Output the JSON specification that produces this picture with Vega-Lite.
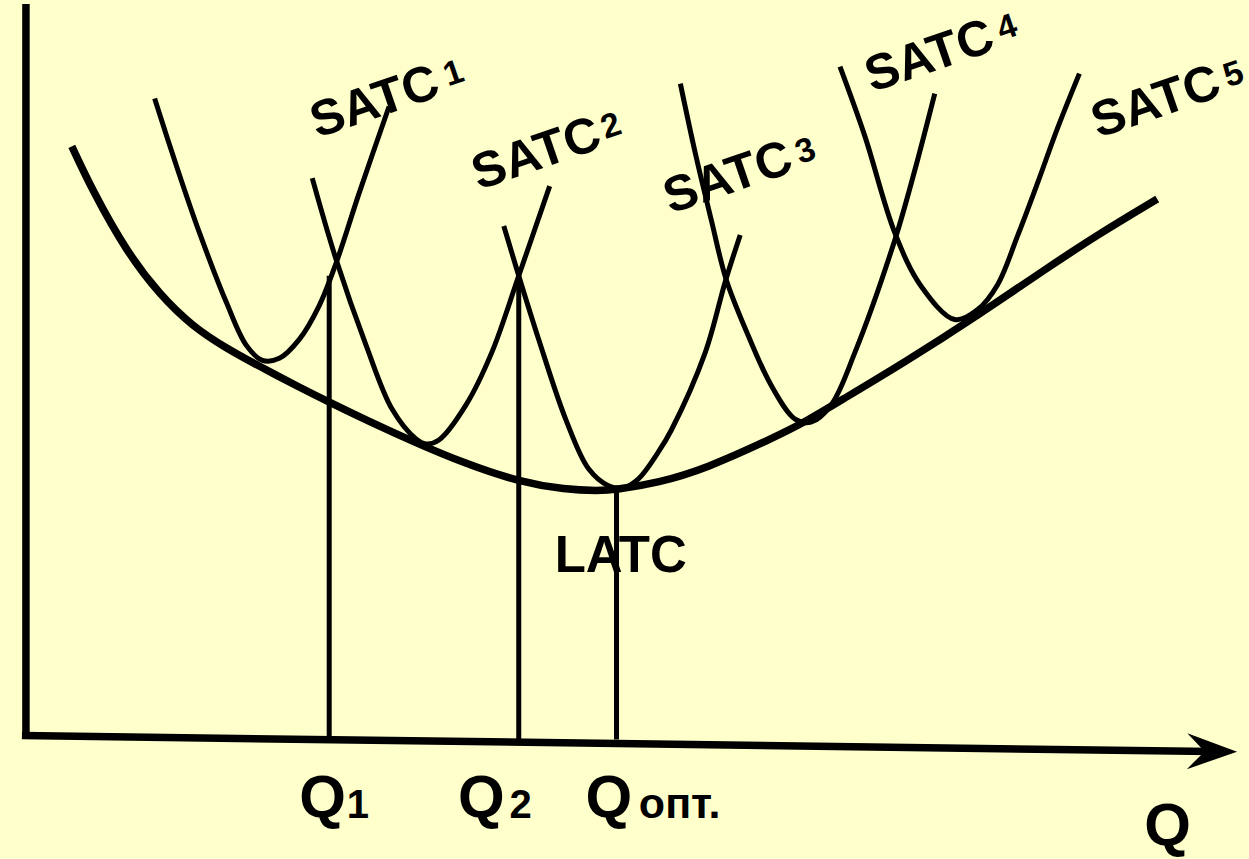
{
  "$schema": "https://vega.github.io/schema/vega-lite/v6.json",
  "width": 1249,
  "height": 859,
  "autosize": {"type": "fit", "contains": "padding"},
  "padding": 0,
  "background": "#FFFFCC",
  "config": {"view": {"stroke": null}},
  "datasets": {
    "latc": [
      {"x": 7.2, "y": 71.6}, {"x": 9.3, "y": 67.1}, {"x": 12.7, "y": 61.0}, {"x": 16.0, "y": 56.7},
      {"x": 19.3, "y": 53.5}, {"x": 22.7, "y": 51.3}, {"x": 26.0, "y": 49.5}, {"x": 30.0, "y": 47.4},
      {"x": 33.0, "y": 45.9}, {"x": 36.7, "y": 44.1}, {"x": 41.7, "y": 41.8}, {"x": 46.7, "y": 39.7},
      {"x": 52.0, "y": 37.9}, {"x": 56.7, "y": 37.1}, {"x": 60.0, "y": 37.0}, {"x": 61.7, "y": 37.1},
      {"x": 66.0, "y": 37.8}, {"x": 70.7, "y": 39.2}, {"x": 77.3, "y": 42.2}, {"x": 80.7, "y": 43.9},
      {"x": 84.0, "y": 45.9}, {"x": 90.7, "y": 49.9}, {"x": 98.0, "y": 54.6}, {"x": 105.0, "y": 59.4},
      {"x": 110.0, "y": 62.7}, {"x": 116.0, "y": 66.3}
    ],
    "satc": [
      {"curve": "SATC1", "x": 15.5, "y": 76.4}, {"curve": "SATC1", "x": 17.7, "y": 69.6},
      {"curve": "SATC1", "x": 20.0, "y": 62.9}, {"curve": "SATC1", "x": 22.7, "y": 55.9},
      {"curve": "SATC1", "x": 24.7, "y": 51.6}, {"curve": "SATC1", "x": 26.3, "y": 50.1},
      {"curve": "SATC1", "x": 28.0, "y": 50.3}, {"curve": "SATC1", "x": 30.0, "y": 52.2},
      {"curve": "SATC1", "x": 32.0, "y": 55.6}, {"curve": "SATC1", "x": 33.7, "y": 59.9},
      {"curve": "SATC1", "x": 36.0, "y": 66.9}, {"curve": "SATC1", "x": 39.0, "y": 75.6},

      {"curve": "SATC2", "x": 31.3, "y": 68.4}, {"curve": "SATC2", "x": 33.7, "y": 60.2},
      {"curve": "SATC2", "x": 36.7, "y": 51.6}, {"curve": "SATC2", "x": 39.3, "y": 45.2},
      {"curve": "SATC2", "x": 41.7, "y": 42.2}, {"curve": "SATC2", "x": 42.7, "y": 41.7},
      {"curve": "SATC2", "x": 44.0, "y": 42.1}, {"curve": "SATC2", "x": 46.7, "y": 45.6},
      {"curve": "SATC2", "x": 49.3, "y": 50.9}, {"curve": "SATC2", "x": 52.0, "y": 58.6},
      {"curve": "SATC2", "x": 55.1, "y": 67.6},

      {"curve": "SATC3", "x": 50.5, "y": 63.6}, {"curve": "SATC3", "x": 52.0, "y": 58.6},
      {"curve": "SATC3", "x": 54.0, "y": 52.2}, {"curve": "SATC3", "x": 56.7, "y": 44.2},
      {"curve": "SATC3", "x": 59.0, "y": 39.2}, {"curve": "SATC3", "x": 61.0, "y": 37.5},
      {"curve": "SATC3", "x": 62.5, "y": 37.3}, {"curve": "SATC3", "x": 64.0, "y": 38.2},
      {"curve": "SATC3", "x": 66.0, "y": 40.9}, {"curve": "SATC3", "x": 67.3, "y": 43.1},
      {"curve": "SATC3", "x": 70.7, "y": 50.9}, {"curve": "SATC3", "x": 72.7, "y": 58.0},
      {"curve": "SATC3", "x": 74.2, "y": 62.7},

      {"curve": "SATC4", "x": 68.2, "y": 77.9}, {"curve": "SATC4", "x": 69.7, "y": 70.9},
      {"curve": "SATC4", "x": 71.3, "y": 64.2}, {"curve": "SATC4", "x": 72.8, "y": 58.2},
      {"curve": "SATC4", "x": 75.0, "y": 52.6}, {"curve": "SATC4", "x": 77.3, "y": 47.6},
      {"curve": "SATC4", "x": 79.7, "y": 44.2}, {"curve": "SATC4", "x": 81.3, "y": 43.9},
      {"curve": "SATC4", "x": 83.3, "y": 45.6}, {"curve": "SATC4", "x": 85.7, "y": 50.9},
      {"curve": "SATC4", "x": 89.7, "y": 62.2}, {"curve": "SATC4", "x": 91.7, "y": 69.2},
      {"curve": "SATC4", "x": 93.7, "y": 76.9},

      {"curve": "SATC5", "x": 84.2, "y": 79.6}, {"curve": "SATC5", "x": 86.7, "y": 72.6},
      {"curve": "SATC5", "x": 89.7, "y": 62.9}, {"curve": "SATC5", "x": 92.3, "y": 57.6},
      {"curve": "SATC5", "x": 95.7, "y": 54.2}, {"curve": "SATC5", "x": 98.0, "y": 55.2},
      {"curve": "SATC5", "x": 100.0, "y": 57.7}, {"curve": "SATC5", "x": 102.0, "y": 62.6},
      {"curve": "SATC5", "x": 104.0, "y": 67.9}, {"curve": "SATC5", "x": 106.0, "y": 73.4},
      {"curve": "SATC5", "x": 108.2, "y": 78.9}
    ],
    "drops": [
      {"name": "Q1", "x": 33.0, "y": 58.6, "x2": 33.0, "y2": 12.0},
      {"name": "Q2", "x": 52.0, "y": 58.6, "x2": 52.0, "y2": 12.0},
      {"name": "Qopt", "x": 61.8, "y": 36.9, "x2": 61.8, "y2": 12.0}
    ],
    "axes": [
      {"name": "cost", "x": 2.6, "y": 85.9, "x2": 2.6, "y2": 12.1},
      {"name": "Q", "x": 2.2, "y": 12.4, "x2": 121.5, "y2": 10.8}
    ],
    "arrow": [{"x": 121.5, "y": 10.8}],
    "labels": [
      {"kind": "satc", "text": "SATC", "x": 31.8, "y": 72.4},
      {"kind": "satc", "text": "SATC", "x": 48.0, "y": 67.2},
      {"kind": "satc", "text": "SATC", "x": 67.2, "y": 64.8},
      {"kind": "satc", "text": "SATC", "x": 87.4, "y": 77.0},
      {"kind": "satc", "text": "SATC", "x": 110.1, "y": 72.4},
      {"kind": "satcsub", "text": "1", "x": 44.9, "y": 77.6},
      {"kind": "satcsub", "text": "2", "x": 60.7, "y": 72.3},
      {"kind": "satcsub", "text": "3", "x": 80.2, "y": 69.8},
      {"kind": "satcsub", "text": "4", "x": 100.4, "y": 82.2},
      {"kind": "satcsub", "text": "5", "x": 123.1, "y": 77.5},
      {"kind": "latc", "text": "LATC", "x": 55.6, "y": 28.8},
      {"kind": "q", "text": "Q", "x": 30.0, "y": 4.2},
      {"kind": "q", "text": "Q", "x": 45.9, "y": 4.2},
      {"kind": "q", "text": "Q", "x": 58.7, "y": 4.2},
      {"kind": "q", "text": "Q", "x": 114.7, "y": 1.4},
      {"kind": "qsub", "text": "1", "x": 34.76, "y": 4.1},
      {"kind": "qsub", "text": "2", "x": 51.08, "y": 4.1},
      {"kind": "qsub2", "text": "опт.", "x": 64.04, "y": 4.1}
    ]
  },
  "layer": [
    {
      "data": {"name": "axes"},
      "mark": {"type": "rule", "color": "black", "strokeWidth": 7.5, "strokeCap": "butt"},
      "encoding": {
        "x": {"field": "x", "type": "quantitative", "scale": {"domain": [0, 124.9], "nice": false, "zero": false}, "axis": null},
        "y": {"field": "y", "type": "quantitative", "scale": {"domain": [0, 85.9], "nice": false, "zero": false}, "axis": null},
        "x2": {"field": "x2"},
        "y2": {"field": "y2"}
      }
    },
    {
      "data": {"name": "arrow"},
      "mark": {"type": "point", "shape": "M 1 0 L -1 -0.72 L -0.3 0 L -1 0.72 Z", "filled": true, "color": "black", "opacity": 1, "size": 2500, "angle": 0.8, "strokeWidth": 0},
      "encoding": {
        "x": {"field": "x", "type": "quantitative", "axis": null},
        "y": {"field": "y", "type": "quantitative", "axis": null}
      }
    },
    {
      "data": {"name": "drops"},
      "mark": {"type": "rule", "color": "black", "strokeWidth": 5},
      "encoding": {
        "x": {"field": "x", "type": "quantitative", "axis": null},
        "y": {"field": "y", "type": "quantitative", "axis": null},
        "x2": {"field": "x2"},
        "y2": {"field": "y2"}
      }
    },
    {
      "data": {"name": "satc"},
      "mark": {"type": "line", "interpolate": "catmull-rom", "color": "black", "strokeWidth": 5, "strokeCap": "butt"},
      "encoding": {
        "x": {"field": "x", "type": "quantitative", "axis": null},
        "y": {"field": "y", "type": "quantitative", "axis": null},
        "detail": {"field": "curve", "type": "nominal"}
      }
    },
    {
      "data": {"name": "latc"},
      "mark": {"type": "line", "interpolate": "basis", "color": "black", "strokeWidth": 7.5, "strokeCap": "butt"},
      "encoding": {
        "x": {"field": "x", "type": "quantitative", "axis": null},
        "y": {"field": "y", "type": "quantitative", "axis": null}
      }
    },
    {
      "data": {"name": "labels"},
      "transform": [{"filter": "datum.kind === 'satc'"}],
      "mark": {"type": "text", "font": "Liberation Sans", "fontWeight": "bold", "fontSize": 50, "align": "left", "baseline": "alphabetic", "angle": -19, "color": "black"},
      "encoding": {
        "x": {"field": "x", "type": "quantitative", "axis": null},
        "y": {"field": "y", "type": "quantitative", "axis": null},
        "text": {"field": "text"}
      }
    },
    {
      "data": {"name": "labels"},
      "transform": [{"filter": "datum.kind === 'satcsub'"}],
      "mark": {"type": "text", "font": "Liberation Sans", "fontWeight": "bold", "fontSize": 34, "align": "left", "baseline": "alphabetic", "angle": -19, "color": "black"},
      "encoding": {
        "x": {"field": "x", "type": "quantitative", "axis": null},
        "y": {"field": "y", "type": "quantitative", "axis": null},
        "text": {"field": "text"}
      }
    },
    {
      "data": {"name": "labels"},
      "transform": [{"filter": "datum.kind === 'latc'"}],
      "mark": {"type": "text", "font": "Liberation Sans", "fontWeight": "bold", "fontSize": 51, "align": "left", "baseline": "alphabetic", "color": "black"},
      "encoding": {
        "x": {"field": "x", "type": "quantitative", "axis": null},
        "y": {"field": "y", "type": "quantitative", "axis": null},
        "text": {"field": "text"}
      }
    },
    {
      "data": {"name": "labels"},
      "transform": [{"filter": "datum.kind === 'q'"}],
      "mark": {"type": "text", "font": "Liberation Sans", "fontWeight": "bold", "fontSize": 60, "align": "left", "baseline": "alphabetic", "color": "black"},
      "encoding": {
        "x": {"field": "x", "type": "quantitative", "axis": null},
        "y": {"field": "y", "type": "quantitative", "axis": null},
        "text": {"field": "text"}
      }
    },
    {
      "data": {"name": "labels"},
      "transform": [{"filter": "datum.kind === 'qsub'"}],
      "mark": {"type": "text", "font": "Liberation Sans", "fontWeight": "bold", "fontSize": 40, "align": "left", "baseline": "alphabetic", "color": "black"},
      "encoding": {
        "x": {"field": "x", "type": "quantitative", "axis": null},
        "y": {"field": "y", "type": "quantitative", "axis": null},
        "text": {"field": "text"}
      }
    },
    {
      "data": {"name": "labels"},
      "transform": [{"filter": "datum.kind === 'qsub2'"}],
      "mark": {"type": "text", "font": "Liberation Sans", "fontWeight": "bold", "fontSize": 43, "align": "left", "baseline": "alphabetic", "color": "black"},
      "encoding": {
        "x": {"field": "x", "type": "quantitative", "axis": null},
        "y": {"field": "y", "type": "quantitative", "axis": null},
        "text": {"field": "text"}
      }
    }
  ]
}
